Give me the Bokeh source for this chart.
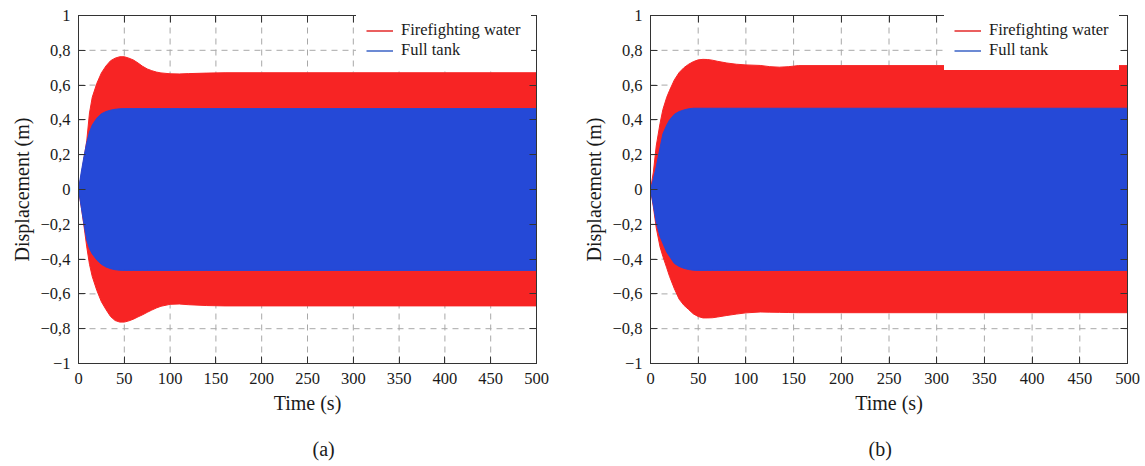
from bokeh.plotting import figure
from bokeh.models import (LinearAxis, FixedTicker, Legend, LegendItem, Range1d,
                          Title, CustomJSTickFormatter)
from bokeh.layouts import row
from bokeh.embed import file_html
from bokeh.resources import INLINE

# ---- axes ----
x_ticks = [0, 50, 100, 150, 200, 250, 300, 350, 400, 450, 500]
y_ticks = [-1.0, -0.8, -0.6, -0.4, -0.2, 0.0, 0.2, 0.4, 0.6, 0.8, 1.0]
y_labels = ["\u22121", "\u22120,8", "\u22120,6", "\u22120,4", "\u22120,2", "0",
            "0,2", "0,4", "0,6", "0,8", "1"]

series_names = ["Firefighting water", "Full tank"]
captions = ["(a)", "(b)"]

# ---- panel (a): response envelopes, time in s, displacement in m ----
t_a = [0, 3, 6, 9, 12, 15, 20, 25, 30, 35, 40, 45, 50, 55, 60, 65, 70, 75, 80,
       85, 90, 100, 110, 120, 140, 160, 200, 250, 300, 350, 400, 450, 500]
fire_hi_a = [0.0, 0.08, 0.18, 0.28, 0.44, 0.53, 0.61, 0.67, 0.71, 0.74, 0.755,
             0.763, 0.763, 0.755, 0.744, 0.727, 0.708, 0.693, 0.683, 0.675,
             0.670, 0.665, 0.664, 0.666, 0.669, 0.671, 0.671, 0.671, 0.671,
             0.671, 0.671, 0.671, 0.671]
fire_lo_a = [0.0, -0.10, -0.21, -0.33, -0.43, -0.50, -0.58, -0.645, -0.69,
             -0.73, -0.753, -0.762, -0.762, -0.755, -0.745, -0.732, -0.72,
             -0.706, -0.693, -0.681, -0.671, -0.66, -0.658, -0.662, -0.667,
             -0.669, -0.669, -0.669, -0.669, -0.669, -0.669, -0.669, -0.669]
full_hi_a = [0.0, 0.10, 0.19, 0.27, 0.33, 0.37, 0.41, 0.435, 0.448, 0.456,
             0.461, 0.464, 0.465, 0.465, 0.465, 0.465, 0.465, 0.465, 0.465,
             0.465, 0.465, 0.465, 0.465, 0.465, 0.465, 0.465, 0.465, 0.465,
             0.465, 0.465, 0.465, 0.465, 0.465]
full_lo_a = [0.0, -0.10, -0.20, -0.29, -0.34, -0.37, -0.405, -0.43, -0.445,
             -0.455, -0.461, -0.464, -0.465, -0.465, -0.465, -0.465, -0.465,
             -0.465, -0.465, -0.465, -0.465, -0.465, -0.465, -0.465, -0.465,
             -0.465, -0.465, -0.465, -0.465, -0.465, -0.465, -0.465, -0.465]

# ---- panel (b) ----
t_b = [0, 3, 6, 10, 13, 17, 20, 25, 30, 35, 40, 45, 50, 55, 60, 65, 70, 80, 90,
       100, 115, 125, 135, 145, 155, 200, 250, 300, 350, 400, 450, 500]
fire_hi_b = [0.0, 0.10, 0.25, 0.38, 0.46, 0.53, 0.57, 0.63, 0.672, 0.70, 0.72,
             0.735, 0.745, 0.748, 0.747, 0.743, 0.737, 0.727, 0.72, 0.716,
             0.713, 0.706, 0.703, 0.706, 0.712, 0.712, 0.712, 0.712, 0.712,
             0.712, 0.712, 0.712]
fire_lo_b = [0.0, -0.10, -0.22, -0.33, -0.385, -0.45, -0.50, -0.57, -0.63,
             -0.665, -0.69, -0.715, -0.73, -0.738, -0.738, -0.737, -0.733,
             -0.724, -0.716, -0.709, -0.704, -0.705, -0.706, -0.707, -0.708,
             -0.708, -0.708, -0.708, -0.708, -0.708, -0.708, -0.708]
full_hi_b = [0.0, 0.06, 0.13, 0.24, 0.32, 0.37, 0.40, 0.432, 0.448, 0.457,
             0.464, 0.467, 0.467, 0.467, 0.467, 0.467, 0.467, 0.467, 0.467,
             0.467, 0.467, 0.467, 0.467, 0.467, 0.467, 0.467, 0.467, 0.467,
             0.467, 0.467, 0.467, 0.467]
full_lo_b = [0.0, -0.09, -0.19, -0.27, -0.31, -0.36, -0.385, -0.425, -0.442,
             -0.453, -0.46, -0.464, -0.465, -0.465, -0.465, -0.465, -0.465,
             -0.465, -0.465, -0.465, -0.465, -0.465, -0.465, -0.465, -0.465,
             -0.465, -0.465, -0.465, -0.465, -0.465, -0.465, -0.465]

FONT = "Liberation Serif"
RED = "#f72424"
BLUE = "#2549d7"
RED_KEY = "#e32a2a"
BLUE_KEY = "#3b63c6"
SPINE = "#333333"
GRID = "#a8a8a8"
TEXT = "#1a1a1a"


def make_panel(t, fire_hi, fire_lo, full_hi, full_lo, caption, frame_w,
               border_l, border_r, legend_xy, caption_offset):
    p = figure(frame_width=frame_w, frame_height=348,
               x_range=Range1d(0, 500), y_range=Range1d(-1, 1),
               output_backend="svg", toolbar_location=None,
               min_border_left=border_l, min_border_right=border_r,
               min_border_top=15, min_border_bottom=103,
               background_fill_color="white", border_fill_color="white")
    p.outline_line_color = SPINE
    p.outline_line_width = 1
    p.xgrid.grid_line_color = None
    p.ygrid.grid_line_color = None

    # dashed grid at the tick positions, kept beneath the filled envelopes
    p.segment(x0=x_ticks, y0=[y_ticks[0]] * len(x_ticks),
              x1=x_ticks, y1=[y_ticks[-1]] * len(x_ticks),
              line_color=GRID, line_dash="6 5", line_width=1)
    p.segment(x0=[x_ticks[0]] * len(y_ticks), y0=y_ticks,
              x1=[x_ticks[-1]] * len(y_ticks), y1=y_ticks,
              line_color=GRID, line_dash="6 5", line_width=1)

    # envelopes of the two oscillating responses
    p.varea(x=t, y1=fire_lo, y2=fire_hi, fill_color=RED)
    p.line(t, fire_hi, line_color=RED, line_width=1)
    p.line(t, fire_lo, line_color=RED, line_width=1)
    p.varea(x=t, y1=full_lo, y2=full_hi, fill_color=BLUE)
    p.line(t, full_hi, line_color=BLUE, line_width=1)
    p.line(t, full_lo, line_color=BLUE, line_width=1)

    # hidden copies of the upper envelopes that only supply the legend keys
    k_fire = p.line(t, fire_hi, line_color=RED_KEY, line_width=1.5, visible=False)
    k_full = p.line(t, full_hi, line_color=BLUE_KEY, line_width=1.5, visible=False)

    # main axes with inward ticks
    for ax, ticks in ((p.xaxis[0], x_ticks), (p.yaxis[0], y_ticks)):
        ax.ticker = FixedTicker(ticks=ticks)
        ax.major_tick_in = 7
        ax.major_tick_out = 0
        ax.minor_tick_line_color = None
        ax.axis_line_color = SPINE
        ax.major_tick_line_color = SPINE
        ax.major_label_text_font = FONT
        ax.major_label_text_font_size = "16.5px"
        ax.major_label_text_color = TEXT
        ax.axis_label_text_font = FONT
        ax.axis_label_text_font_size = "20px"
        ax.axis_label_text_font_style = "normal"
        ax.axis_label_text_color = TEXT
    p.yaxis[0].major_label_overrides = dict(zip(y_ticks, y_labels))
    p.yaxis[0].major_label_standoff = 8
    p.yaxis[0].axis_label = "Displacement (m)"
    p.yaxis[0].axis_label_standoff = 5
    p.xaxis[0].major_label_standoff = 9
    p.xaxis[0].axis_label = "Time (s)"
    p.xaxis[0].axis_label_standoff = 5

    # mirrored tick marks on the top and right edges
    for ticks, side in ((x_ticks, "above"), (y_ticks, "right")):
        ax = LinearAxis(ticker=FixedTicker(ticks=ticks),
                        formatter=CustomJSTickFormatter(code="return ''"),
                        major_tick_in=7, major_tick_out=0,
                        minor_tick_line_color=None,
                        axis_line_color=SPINE, major_tick_line_color=SPINE,
                        major_label_text_font_size="0px",
                        major_label_standoff=0)
        p.add_layout(ax, side)

    legend = Legend(items=[LegendItem(label=series_names[0], renderers=[k_fire]),
                           LegendItem(label=series_names[1], renderers=[k_full])],
                    location=legend_xy, margin=0, padding=10, spacing=0,
                    glyph_width=27, glyph_height=17, label_height=17,
                    label_standoff=8, label_text_font=FONT,
                    label_text_font_size="16.5px",
                    label_text_color=TEXT,
                    inactive_fill_alpha=0,
                    border_line_alpha=0, background_fill_color="white",
                    background_fill_alpha=1)
    p.add_layout(legend)

    p.add_layout(Title(text=caption, align="left", offset=caption_offset,
                       text_font=FONT, text_font_size="20px",
                       text_font_style="normal", text_color=TEXT,
                       standoff=38), "below")
    return p


pa = make_panel(t_a, fire_hi_a, fire_lo_a, full_hi_a, full_lo_a, captions[0],
                458, 78, 34, (278, 293), 234)
pb = make_panel(t_b, fire_hi_b, fire_lo_b, full_hi_b, full_lo_b, captions[1],
                477, 80, 18, (294, 293), 218)

layout = row(pa, pb)
open("out.html", "w").write(file_html(layout, INLINE))
